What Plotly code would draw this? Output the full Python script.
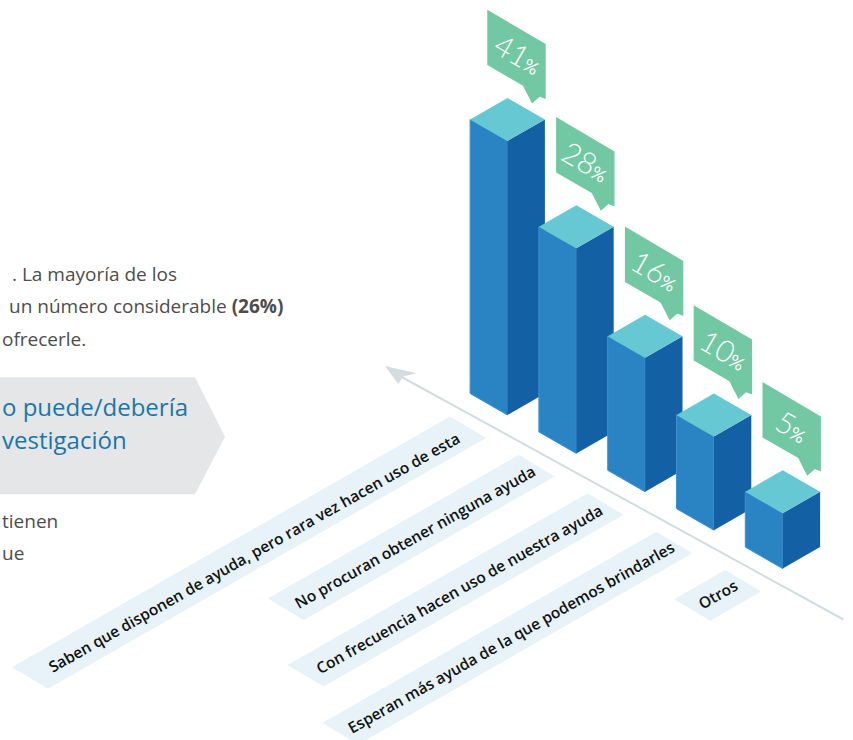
import plotly.graph_objects as go

# Chart data
categories = [
    "Saben que disponen de ayuda, pero rara vez hacen uso de esta",
    "No procuran obtener ninguna ayuda",
    "Con frecuencia hacen uso de nuestra ayuda",
    "Esperan más ayuda de la que podemos brindarles",
    "Otros",
]
values = [41, 28, 16, 10, 5]
strip_lengths = [438, 251, 300, 334, 51]

# Isometric layout of the floor, in page pixels
FRONT_X, FRONT_Y = 507.5, 415.0
STEP_X, STEP_Y = 68.8, 38.4
HALF_W, HALF_D = 37.4, 21.5


def bar_height(value):
    """Compressed value scale used for the column heights."""
    return 16.3 * value ** 0.76


def polygon(points, fill, line=None):
    xs = [p[0] for p in points] + [points[0][0]]
    ys = [p[1] for p in points] + [points[0][1]]
    return go.Scatter(
        x=xs, y=ys, mode="lines", fill="toself", fillcolor=fill,
        line=dict(color=line or fill, width=1 if line else 0),
        hoverinfo="skip", showlegend=False,
    )


fig = go.Figure()

# Grey banner behind the section heading
fig.add_trace(polygon([(-5, 377.3), (195, 377.3), (225, 436.7), (195, 494.3), (-5, 494.3)], "#e4e6e8"))

# Floor axis with its arrow head
fig.add_trace(go.Scatter(x=[398, 843.5], y=[375, 619.5], mode="lines",
                         line=dict(color="#d3dce1", width=2), hoverinfo="skip", showlegend=False))
fig.add_trace(polygon([(385, 366), (416.7, 373.3), (403, 376.5), (398.3, 384)], "#d3dce1"))

annotations = []

# Category strips on the floor
for i, (label, length) in enumerate(zip(categories, strip_lengths)):
    rx = FRONT_X + i * STEP_X - 21.5
    ry = FRONT_Y + i * STEP_Y + 23.0
    right = (rx, ry)
    top = (rx - 36, ry - 21.5)
    bottom = (rx - length, ry + length * 0.5725)
    left = (bottom[0] - 36, bottom[1] - 21.5)
    fig.add_trace(polygon([left, top, right, bottom], "#e7f3f8"))
    annotations.append(dict(
        x=(left[0] + right[0]) / 2 + length * 0.012, y=(left[1] + right[1]) / 2 - 1, text=label,
        textangle=-29.5, showarrow=False, xanchor="center", yanchor="middle",
        font=dict(family="Open Sans", size=15.5, color="#111111", weight=600),
    ))

# Columns and their value callouts
for i, value in enumerate(values):
    fx = FRONT_X + i * STEP_X
    fy = FRONT_Y + i * STEP_Y
    top_y = fy - bar_height(value)
    fig.add_trace(polygon([(fx - HALF_W, top_y - HALF_D), (fx, top_y), (fx, fy), (fx - HALF_W, fy - HALF_D)],
                          "#2a84c4", line="#3c93d0"))
    fig.add_trace(polygon([(fx, top_y), (fx + HALF_W, top_y - HALF_D), (fx + HALF_W, fy - HALF_D), (fx, fy)],
                          "#1460a5"))
    fig.add_trace(polygon([(fx, top_y), (fx - HALF_W, top_y - HALF_D), (fx, top_y - 2 * HALF_D), (fx + HALF_W, top_y - HALF_D)],
                          "#66c8d2"))

    tx, ty = fx + 24.5, top_y - 37.5
    fig.add_trace(polygon([
        (tx - 44.7, ty - 93.7), (tx + 13.7, ty - 59.3), (tx + 13.7, ty - 4.3), (tx + 7.7, ty - 6.7),
        (tx, ty), (tx - 9, ty - 17.7), (tx - 44.7, ty - 38.3),
    ], "#71c8a3"))
    annotations.append(dict(
        x=tx - 14, y=ty - 50, text=f"{value}<span style='font-size:18px;font-weight:400'>%</span>",
        textangle=30, showarrow=False, xanchor="center", yanchor="middle",
        font=dict(family="Lato", size=30, color="#ffffff", weight=300),
    ))

# Body copy around the chart
BODY = dict(family="Open Sans", size=19, color="#4d4d4d")
for x, y, anchor, txt in [
    (179, 274, "right", ". La mayoría de los"),
    (285, 306, "right", "un número considerable <b>(26%)</b>"),
    (0, 339, "left", "ofrecerle."),
    (0, 521, "left", "tienen"),
    (0, 553, "left", "ue"),
]:
    annotations.append(dict(x=x, y=y, text=txt, showarrow=False, xanchor=anchor, yanchor="middle", font=BODY))

HEADING = dict(family="Open Sans", size=24, color="#1b76a8")
annotations.append(dict(x=0, y=406, text="o puede/debería", showarrow=False, xanchor="left", yanchor="middle", font=HEADING))
annotations.append(dict(x=0, y=439, text="vestigación", showarrow=False, xanchor="left", yanchor="middle", font=HEADING))

fig.update_layout(
    width=853, height=740, margin=dict(l=0, r=0, t=0, b=0),
    paper_bgcolor="white", plot_bgcolor="white", showlegend=False,
    xaxis=dict(range=[0, 853], visible=False, fixedrange=True),
    yaxis=dict(range=[740, 0], visible=False, fixedrange=True),
    annotations=annotations,
)

fig.write_html("out.html", config=dict(displayModeBar=False))
